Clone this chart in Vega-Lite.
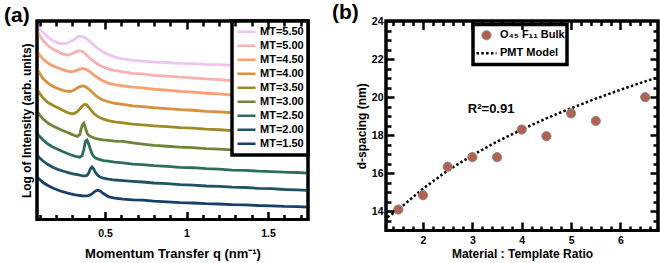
{
"$schema": "https://vega.github.io/schema/vega-lite/v6.json",
"padding": {"left": 2, "top": 0, "right": 0, "bottom": 0},
"spacing": 18,
"resolve": {
  "scale": {"color": "independent", "fill": "independent", "stroke": "independent", "shape": "independent", "size": "independent", "strokeDash": "independent", "strokeWidth": "independent"},
  "legend": {"color": "independent", "fill": "independent", "stroke": "independent", "shape": "independent", "size": "independent", "strokeDash": "independent", "strokeWidth": "independent"}
},
"config": {
  "font": "Liberation Sans",
  "view": {"stroke": "black", "strokeWidth": 3},
  "axis": {"labelFontWeight": "bold", "titleFontWeight": "bold", "labelColor": "black", "titleColor": "black", "domain": false, "grid": false, "ticks": true, "tickColor": "#000000", "tickWidth": 2.5, "tickOpacity": 1, "labelFontSize": 10.5, "titleFontSize": 12, "labelOverlap": false, "labelFlush": false, "zindex": 2},
  "legend": {"strokeColor": "black", "strokeWidth": 3.5, "fillColor": "white", "labelFontWeight": "bold", "labelFontSize": 11, "labelColor": "black"},
  "title": {"fontSize": 21, "fontWeight": "bold", "anchor": "start", "frame": "group", "color": "black"}
},
"datasets": {
"saxs": [
{"m":"MT=1.50","q":0.085,"v":42},{"m":"MT=1.50","q":0.1,"v":40},{"m":"MT=1.50","q":0.12,"v":37},{"m":"MT=1.50","q":0.15,"v":34},{"m":"MT=1.50","q":0.18,"v":31.5},{"m":"MT=1.50","q":0.21,"v":29.5},{"m":"MT=1.50","q":0.24,"v":27.8},{"m":"MT=1.50","q":0.27,"v":26.5},{"m":"MT=1.50","q":0.29,"v":25.7},{"m":"MT=1.50","q":0.31,"v":25},{"m":"MT=1.50","q":0.33,"v":24.4},{"m":"MT=1.50","q":0.345,"v":24},{"m":"MT=1.50","q":0.36,"v":23.7},{"m":"MT=1.50","q":0.37,"v":23.6},{"m":"MT=1.50","q":0.38,"v":23.6},{"m":"MT=1.50","q":0.39,"v":23.7},{"m":"MT=1.50","q":0.4,"v":24},{"m":"MT=1.50","q":0.41,"v":24.6},{"m":"MT=1.50","q":0.42,"v":25.6},{"m":"MT=1.50","q":0.43,"v":27},{"m":"MT=1.50","q":0.44,"v":28.4},{"m":"MT=1.50","q":0.455,"v":29.3},{"m":"MT=1.50","q":0.47,"v":28.6},{"m":"MT=1.50","q":0.49,"v":26},{"m":"MT=1.50","q":0.52,"v":22.8},{"m":"MT=1.50","q":0.56,"v":21.3},{"m":"MT=1.50","q":0.61,"v":20.3},{"m":"MT=1.50","q":0.67,"v":19.7},{"m":"MT=1.50","q":0.73,"v":19.4},{"m":"MT=1.50","q":0.8,"v":18.4},{"m":"MT=1.50","q":0.88,"v":17.6},{"m":"MT=1.50","q":0.96,"v":16.9},{"m":"MT=1.50","q":1.04,"v":16.5},{"m":"MT=1.50","q":1.12,"v":15.8},{"m":"MT=1.50","q":1.2,"v":15.5},{"m":"MT=1.50","q":1.28,"v":14.9},{"m":"MT=1.50","q":1.36,"v":14.6},{"m":"MT=1.50","q":1.44,"v":14},{"m":"MT=1.50","q":1.52,"v":13.7},{"m":"MT=1.50","q":1.6,"v":13.1},{"m":"MT=1.50","q":1.68,"v":12.9},{"m":"MT=1.50","q":1.75,"v":12.4},
{"m":"MT=2.00","q":0.085,"v":64},{"m":"MT=2.00","q":0.1,"v":61.5},{"m":"MT=2.00","q":0.12,"v":58.5},{"m":"MT=2.00","q":0.15,"v":55},{"m":"MT=2.00","q":0.18,"v":52.3},{"m":"MT=2.00","q":0.21,"v":50.2},{"m":"MT=2.00","q":0.24,"v":48.5},{"m":"MT=2.00","q":0.27,"v":47.1},{"m":"MT=2.00","q":0.29,"v":46.2},{"m":"MT=2.00","q":0.31,"v":45.5},{"m":"MT=2.00","q":0.33,"v":44.8},{"m":"MT=2.00","q":0.345,"v":44.3},{"m":"MT=2.00","q":0.36,"v":43.9},{"m":"MT=2.00","q":0.37,"v":43.7},{"m":"MT=2.00","q":0.38,"v":43.7},{"m":"MT=2.00","q":0.39,"v":44.3},{"m":"MT=2.00","q":0.4,"v":46.5},{"m":"MT=2.00","q":0.41,"v":50.5},{"m":"MT=2.00","q":0.42,"v":52.6},{"m":"MT=2.00","q":0.43,"v":50.8},{"m":"MT=2.00","q":0.44,"v":47.5},{"m":"MT=2.00","q":0.455,"v":44.3},{"m":"MT=2.00","q":0.47,"v":42.5},{"m":"MT=2.00","q":0.49,"v":41.3},{"m":"MT=2.00","q":0.52,"v":40.3},{"m":"MT=2.00","q":0.56,"v":39.5},{"m":"MT=2.00","q":0.61,"v":38.9},{"m":"MT=2.00","q":0.67,"v":38.1},{"m":"MT=2.00","q":0.73,"v":37.5},{"m":"MT=2.00","q":0.8,"v":36.5},{"m":"MT=2.00","q":0.88,"v":35.8},{"m":"MT=2.00","q":0.96,"v":34.9},{"m":"MT=2.00","q":1.04,"v":34.4},{"m":"MT=2.00","q":1.12,"v":33.5},{"m":"MT=2.00","q":1.2,"v":33.1},{"m":"MT=2.00","q":1.28,"v":32.3},{"m":"MT=2.00","q":1.36,"v":32},{"m":"MT=2.00","q":1.44,"v":31.2},{"m":"MT=2.00","q":1.52,"v":30.8},{"m":"MT=2.00","q":1.6,"v":30},{"m":"MT=2.00","q":1.68,"v":29.7},{"m":"MT=2.00","q":1.75,"v":29.1},
{"m":"MT=2.50","q":0.085,"v":86},{"m":"MT=2.50","q":0.1,"v":83},{"m":"MT=2.50","q":0.12,"v":79.5},{"m":"MT=2.50","q":0.15,"v":75.5},{"m":"MT=2.50","q":0.18,"v":72.5},{"m":"MT=2.50","q":0.21,"v":70.2},{"m":"MT=2.50","q":0.24,"v":68},{"m":"MT=2.50","q":0.27,"v":66},{"m":"MT=2.50","q":0.29,"v":64.8},{"m":"MT=2.50","q":0.31,"v":63.7},{"m":"MT=2.50","q":0.33,"v":62.8},{"m":"MT=2.50","q":0.345,"v":62.3},{"m":"MT=2.50","q":0.36,"v":64},{"m":"MT=2.50","q":0.37,"v":70},{"m":"MT=2.50","q":0.38,"v":78.5},{"m":"MT=2.50","q":0.39,"v":79.5},{"m":"MT=2.50","q":0.4,"v":75.5},{"m":"MT=2.50","q":0.41,"v":70.5},{"m":"MT=2.50","q":0.42,"v":66},{"m":"MT=2.50","q":0.43,"v":63.3},{"m":"MT=2.50","q":0.44,"v":61.8},{"m":"MT=2.50","q":0.455,"v":60.7},{"m":"MT=2.50","q":0.47,"v":59.8},{"m":"MT=2.50","q":0.49,"v":59},{"m":"MT=2.50","q":0.52,"v":58.3},{"m":"MT=2.50","q":0.56,"v":57.5},{"m":"MT=2.50","q":0.61,"v":56.7},{"m":"MT=2.50","q":0.67,"v":55.5},{"m":"MT=2.50","q":0.73,"v":54.8},{"m":"MT=2.50","q":0.8,"v":53.8},{"m":"MT=2.50","q":0.88,"v":53.1},{"m":"MT=2.50","q":0.96,"v":52.2},{"m":"MT=2.50","q":1.04,"v":51.8},{"m":"MT=2.50","q":1.12,"v":50.9},{"m":"MT=2.50","q":1.2,"v":50.4},{"m":"MT=2.50","q":1.28,"v":49.5},{"m":"MT=2.50","q":1.36,"v":49.1},{"m":"MT=2.50","q":1.44,"v":48.4},{"m":"MT=2.50","q":1.52,"v":48},{"m":"MT=2.50","q":1.6,"v":47.3},{"m":"MT=2.50","q":1.68,"v":47},{"m":"MT=2.50","q":1.75,"v":46.4},
{"m":"MT=3.00","q":0.085,"v":108},{"m":"MT=3.00","q":0.1,"v":104.5},{"m":"MT=3.00","q":0.12,"v":100.5},{"m":"MT=3.00","q":0.15,"v":96.5},{"m":"MT=3.00","q":0.18,"v":93.5},{"m":"MT=3.00","q":0.21,"v":91.2},{"m":"MT=3.00","q":0.24,"v":89},{"m":"MT=3.00","q":0.27,"v":87},{"m":"MT=3.00","q":0.29,"v":85.7},{"m":"MT=3.00","q":0.31,"v":84.3},{"m":"MT=3.00","q":0.33,"v":83.2},{"m":"MT=3.00","q":0.345,"v":85},{"m":"MT=3.00","q":0.36,"v":94.5},{"m":"MT=3.00","q":0.37,"v":96.5},{"m":"MT=3.00","q":0.38,"v":91.5},{"m":"MT=3.00","q":0.39,"v":86.5},{"m":"MT=3.00","q":0.4,"v":84.3},{"m":"MT=3.00","q":0.41,"v":83.2},{"m":"MT=3.00","q":0.42,"v":82.5},{"m":"MT=3.00","q":0.43,"v":81.8},{"m":"MT=3.00","q":0.44,"v":81.2},{"m":"MT=3.00","q":0.455,"v":80.6},{"m":"MT=3.00","q":0.47,"v":80.1},{"m":"MT=3.00","q":0.49,"v":79.6},{"m":"MT=3.00","q":0.52,"v":79.1},{"m":"MT=3.00","q":0.56,"v":78.5},{"m":"MT=3.00","q":0.61,"v":78.2},{"m":"MT=3.00","q":0.67,"v":76.7},{"m":"MT=3.00","q":0.73,"v":75.4},{"m":"MT=3.00","q":0.8,"v":74.1},{"m":"MT=3.00","q":0.88,"v":73.3},{"m":"MT=3.00","q":0.96,"v":72.4},{"m":"MT=3.00","q":1.04,"v":71.9},{"m":"MT=3.00","q":1.12,"v":71},{"m":"MT=3.00","q":1.2,"v":70.5},{"m":"MT=3.00","q":1.28,"v":69.6},{"m":"MT=3.00","q":1.36,"v":69.2},{"m":"MT=3.00","q":1.44,"v":68.4},{"m":"MT=3.00","q":1.52,"v":68},{"m":"MT=3.00","q":1.6,"v":67.3},{"m":"MT=3.00","q":1.68,"v":67},{"m":"MT=3.00","q":1.75,"v":66.4},
{"m":"MT=3.50","q":0.085,"v":130},{"m":"MT=3.50","q":0.1,"v":126},{"m":"MT=3.50","q":0.12,"v":121.5},{"m":"MT=3.50","q":0.15,"v":117},{"m":"MT=3.50","q":0.18,"v":114.3},{"m":"MT=3.50","q":0.21,"v":111.8},{"m":"MT=3.50","q":0.24,"v":109.3},{"m":"MT=3.50","q":0.27,"v":107},{"m":"MT=3.50","q":0.29,"v":105.9},{"m":"MT=3.50","q":0.31,"v":106},{"m":"MT=3.50","q":0.33,"v":107.8},{"m":"MT=3.50","q":0.345,"v":110.5},{"m":"MT=3.50","q":0.36,"v":113},{"m":"MT=3.50","q":0.37,"v":114.8},{"m":"MT=3.50","q":0.38,"v":115.3},{"m":"MT=3.50","q":0.39,"v":114.5},{"m":"MT=3.50","q":0.4,"v":112.5},{"m":"MT=3.50","q":0.41,"v":110.5},{"m":"MT=3.50","q":0.42,"v":108.3},{"m":"MT=3.50","q":0.43,"v":106.3},{"m":"MT=3.50","q":0.44,"v":104.8},{"m":"MT=3.50","q":0.455,"v":103.2},{"m":"MT=3.50","q":0.47,"v":101.8},{"m":"MT=3.50","q":0.49,"v":100.4},{"m":"MT=3.50","q":0.52,"v":98.9},{"m":"MT=3.50","q":0.56,"v":97.7},{"m":"MT=3.50","q":0.61,"v":96.7},{"m":"MT=3.50","q":0.67,"v":95.4},{"m":"MT=3.50","q":0.73,"v":94.7},{"m":"MT=3.50","q":0.8,"v":93.6},{"m":"MT=3.50","q":0.88,"v":93},{"m":"MT=3.50","q":0.96,"v":92},{"m":"MT=3.50","q":1.04,"v":91.4},{"m":"MT=3.50","q":1.12,"v":90.4},{"m":"MT=3.50","q":1.2,"v":89.8},{"m":"MT=3.50","q":1.28,"v":88.9},{"m":"MT=3.50","q":1.36,"v":88.5},{"m":"MT=3.50","q":1.44,"v":87.7},{"m":"MT=3.50","q":1.52,"v":87.3},{"m":"MT=3.50","q":1.6,"v":86.6},{"m":"MT=3.50","q":1.68,"v":86.4},{"m":"MT=3.50","q":1.75,"v":85.9},
{"m":"MT=4.00","q":0.085,"v":150},{"m":"MT=4.00","q":0.1,"v":146},{"m":"MT=4.00","q":0.12,"v":141},{"m":"MT=4.00","q":0.15,"v":136.5},{"m":"MT=4.00","q":0.18,"v":133.3},{"m":"MT=4.00","q":0.21,"v":131},{"m":"MT=4.00","q":0.24,"v":129.3},{"m":"MT=4.00","q":0.27,"v":128.2},{"m":"MT=4.00","q":0.29,"v":128.3},{"m":"MT=4.00","q":0.31,"v":129.5},{"m":"MT=4.00","q":0.33,"v":131.5},{"m":"MT=4.00","q":0.345,"v":133},{"m":"MT=4.00","q":0.36,"v":133.7},{"m":"MT=4.00","q":0.37,"v":133.5},{"m":"MT=4.00","q":0.38,"v":132.8},{"m":"MT=4.00","q":0.39,"v":131.8},{"m":"MT=4.00","q":0.4,"v":130.5},{"m":"MT=4.00","q":0.41,"v":129},{"m":"MT=4.00","q":0.42,"v":127.5},{"m":"MT=4.00","q":0.43,"v":126},{"m":"MT=4.00","q":0.44,"v":124.5},{"m":"MT=4.00","q":0.455,"v":122.6},{"m":"MT=4.00","q":0.47,"v":121},{"m":"MT=4.00","q":0.49,"v":119.3},{"m":"MT=4.00","q":0.52,"v":117.8},{"m":"MT=4.00","q":0.56,"v":116.3},{"m":"MT=4.00","q":0.61,"v":115.1},{"m":"MT=4.00","q":0.67,"v":113.7},{"m":"MT=4.00","q":0.73,"v":113},{"m":"MT=4.00","q":0.8,"v":111.8},{"m":"MT=4.00","q":0.88,"v":110.9},{"m":"MT=4.00","q":0.96,"v":109.9},{"m":"MT=4.00","q":1.04,"v":109.3},{"m":"MT=4.00","q":1.12,"v":108.2},{"m":"MT=4.00","q":1.2,"v":107.7},{"m":"MT=4.00","q":1.28,"v":106.8},{"m":"MT=4.00","q":1.36,"v":106.3},{"m":"MT=4.00","q":1.44,"v":105.4},{"m":"MT=4.00","q":1.52,"v":105},{"m":"MT=4.00","q":1.6,"v":104.2},{"m":"MT=4.00","q":1.68,"v":103.8},{"m":"MT=4.00","q":1.75,"v":103.2},
{"m":"MT=4.50","q":0.085,"v":168},{"m":"MT=4.50","q":0.1,"v":164.5},{"m":"MT=4.50","q":0.12,"v":160.5},{"m":"MT=4.50","q":0.15,"v":156.5},{"m":"MT=4.50","q":0.18,"v":153.7},{"m":"MT=4.50","q":0.21,"v":151.8},{"m":"MT=4.50","q":0.24,"v":150},{"m":"MT=4.50","q":0.27,"v":148.5},{"m":"MT=4.50","q":0.29,"v":148},{"m":"MT=4.50","q":0.31,"v":148.3},{"m":"MT=4.50","q":0.33,"v":149.4},{"m":"MT=4.50","q":0.345,"v":150.4},{"m":"MT=4.50","q":0.36,"v":151},{"m":"MT=4.50","q":0.37,"v":151},{"m":"MT=4.50","q":0.38,"v":150.5},{"m":"MT=4.50","q":0.39,"v":149.6},{"m":"MT=4.50","q":0.4,"v":148.6},{"m":"MT=4.50","q":0.41,"v":147.4},{"m":"MT=4.50","q":0.42,"v":146.2},{"m":"MT=4.50","q":0.43,"v":144.9},{"m":"MT=4.50","q":0.44,"v":143.6},{"m":"MT=4.50","q":0.455,"v":141.9},{"m":"MT=4.50","q":0.47,"v":140.3},{"m":"MT=4.50","q":0.49,"v":138.5},{"m":"MT=4.50","q":0.52,"v":136.5},{"m":"MT=4.50","q":0.56,"v":135},{"m":"MT=4.50","q":0.61,"v":133.8},{"m":"MT=4.50","q":0.67,"v":132.4},{"m":"MT=4.50","q":0.73,"v":131.6},{"m":"MT=4.50","q":0.8,"v":130.3},{"m":"MT=4.50","q":0.88,"v":129.4},{"m":"MT=4.50","q":0.96,"v":128.1},{"m":"MT=4.50","q":1.04,"v":127.4},{"m":"MT=4.50","q":1.12,"v":126.3},{"m":"MT=4.50","q":1.2,"v":125.6},{"m":"MT=4.50","q":1.28,"v":124.5},{"m":"MT=4.50","q":1.36,"v":123.9},{"m":"MT=4.50","q":1.44,"v":122.9},{"m":"MT=4.50","q":1.52,"v":122.3},{"m":"MT=4.50","q":1.6,"v":121.4},{"m":"MT=4.50","q":1.68,"v":120.9},{"m":"MT=4.50","q":1.75,"v":120.1},
{"m":"MT=5.00","q":0.085,"v":188.5},{"m":"MT=5.00","q":0.1,"v":184},{"m":"MT=5.00","q":0.12,"v":179},{"m":"MT=5.00","q":0.15,"v":174},{"m":"MT=5.00","q":0.18,"v":170.5},{"m":"MT=5.00","q":0.21,"v":168},{"m":"MT=5.00","q":0.24,"v":165.5},{"m":"MT=5.00","q":0.27,"v":164.6},{"m":"MT=5.00","q":0.29,"v":165.3},{"m":"MT=5.00","q":0.31,"v":166.8},{"m":"MT=5.00","q":0.33,"v":168.5},{"m":"MT=5.00","q":0.345,"v":168.7},{"m":"MT=5.00","q":0.36,"v":168.2},{"m":"MT=5.00","q":0.37,"v":167.2},{"m":"MT=5.00","q":0.38,"v":165.8},{"m":"MT=5.00","q":0.39,"v":164.2},{"m":"MT=5.00","q":0.4,"v":162.6},{"m":"MT=5.00","q":0.41,"v":161.1},{"m":"MT=5.00","q":0.42,"v":159.8},{"m":"MT=5.00","q":0.43,"v":158.5},{"m":"MT=5.00","q":0.44,"v":157.2},{"m":"MT=5.00","q":0.455,"v":155.6},{"m":"MT=5.00","q":0.47,"v":154.1},{"m":"MT=5.00","q":0.49,"v":152.4},{"m":"MT=5.00","q":0.52,"v":150.6},{"m":"MT=5.00","q":0.56,"v":149},{"m":"MT=5.00","q":0.61,"v":147.6},{"m":"MT=5.00","q":0.67,"v":146.3},{"m":"MT=5.00","q":0.73,"v":145.6},{"m":"MT=5.00","q":0.8,"v":144.3},{"m":"MT=5.00","q":0.88,"v":143.4},{"m":"MT=5.00","q":0.96,"v":142.4},{"m":"MT=5.00","q":1.04,"v":141.7},{"m":"MT=5.00","q":1.12,"v":140.6},{"m":"MT=5.00","q":1.2,"v":139.9},{"m":"MT=5.00","q":1.28,"v":138.8},{"m":"MT=5.00","q":1.36,"v":138.3},{"m":"MT=5.00","q":1.44,"v":137.4},{"m":"MT=5.00","q":1.52,"v":136.9},{"m":"MT=5.00","q":1.6,"v":136.1},{"m":"MT=5.00","q":1.68,"v":135.7},{"m":"MT=5.00","q":1.75,"v":135.1},
{"m":"MT=5.50","q":0.085,"v":193.5},{"m":"MT=5.50","q":0.1,"v":191},{"m":"MT=5.50","q":0.12,"v":187},{"m":"MT=5.50","q":0.15,"v":182.5},{"m":"MT=5.50","q":0.18,"v":179},{"m":"MT=5.50","q":0.21,"v":176.7},{"m":"MT=5.50","q":0.24,"v":175.8},{"m":"MT=5.50","q":0.27,"v":176.5},{"m":"MT=5.50","q":0.29,"v":178},{"m":"MT=5.50","q":0.31,"v":180},{"m":"MT=5.50","q":0.33,"v":182.5},{"m":"MT=5.50","q":0.345,"v":183.3},{"m":"MT=5.50","q":0.36,"v":183.2},{"m":"MT=5.50","q":0.37,"v":182.6},{"m":"MT=5.50","q":0.38,"v":181.6},{"m":"MT=5.50","q":0.39,"v":180.4},{"m":"MT=5.50","q":0.4,"v":179},{"m":"MT=5.50","q":0.41,"v":177.6},{"m":"MT=5.50","q":0.42,"v":176.2},{"m":"MT=5.50","q":0.43,"v":174.8},{"m":"MT=5.50","q":0.44,"v":173.4},{"m":"MT=5.50","q":0.455,"v":171.5},{"m":"MT=5.50","q":0.47,"v":169.6},{"m":"MT=5.50","q":0.49,"v":167.4},{"m":"MT=5.50","q":0.52,"v":165},{"m":"MT=5.50","q":0.56,"v":162.5},{"m":"MT=5.50","q":0.61,"v":160.6},{"m":"MT=5.50","q":0.67,"v":159.1},{"m":"MT=5.50","q":0.73,"v":158.5},{"m":"MT=5.50","q":0.8,"v":157.6},{"m":"MT=5.50","q":0.88,"v":157.1},{"m":"MT=5.50","q":0.96,"v":156.3},{"m":"MT=5.50","q":1.04,"v":155.9},{"m":"MT=5.50","q":1.12,"v":155.2},{"m":"MT=5.50","q":1.2,"v":154.9},{"m":"MT=5.50","q":1.28,"v":154.2},{"m":"MT=5.50","q":1.36,"v":154},{"m":"MT=5.50","q":1.44,"v":153.4},{"m":"MT=5.50","q":1.52,"v":153.2},{"m":"MT=5.50","q":1.6,"v":152.6},{"m":"MT=5.50","q":1.68,"v":152.4},{"m":"MT=5.50","q":1.75,"v":152}
],
"dsp": [
{"s":"O₄₅ F₁₁ Bulk","ratio":1.5,"d":14.1},{"s":"O₄₅ F₁₁ Bulk","ratio":2,"d":14.85},{"s":"O₄₅ F₁₁ Bulk","ratio":2.5,"d":16.35},{"s":"O₄₅ F₁₁ Bulk","ratio":3,"d":16.85},{"s":"O₄₅ F₁₁ Bulk","ratio":3.5,"d":16.85},{"s":"O₄₅ F₁₁ Bulk","ratio":4,"d":18.3},{"s":"O₄₅ F₁₁ Bulk","ratio":4.5,"d":17.95},{"s":"O₄₅ F₁₁ Bulk","ratio":5,"d":19.15},{"s":"O₄₅ F₁₁ Bulk","ratio":5.5,"d":18.75},{"s":"O₄₅ F₁₁ Bulk","ratio":6.5,"d":20.0}
],
"pmt": [
{"s":"PMT Model","ratio":1.28,"d":13.7},{"s":"PMT Model","ratio":1.5,"d":14.1},{"s":"PMT Model","ratio":2,"d":15.2},{"s":"PMT Model","ratio":2.5,"d":16.15},{"s":"PMT Model","ratio":3,"d":16.95},{"s":"PMT Model","ratio":3.5,"d":17.67},{"s":"PMT Model","ratio":4,"d":18.3},{"s":"PMT Model","ratio":4.5,"d":18.89},{"s":"PMT Model","ratio":5,"d":19.42},{"s":"PMT Model","ratio":5.5,"d":19.92},{"s":"PMT Model","ratio":6,"d":20.39},{"s":"PMT Model","ratio":6.5,"d":20.83},{"s":"PMT Model","ratio":6.76,"d":21.05}
],
"ann": [{"label":"R²=0.91"}],
"frame": [{"f":1}]
},
"hconcat": [
{
  "width": 271, "height": 198.5,
  "view": {"stroke": "black", "strokeWidth": 3},
  "title": {"text": "(a)", "dx": -33, "offset": -6.5},
  "layer": [
    {
      "data": {"name": "saxs"},
      "mark": {"type": "line", "strokeWidth": 2.8, "clip": true},
      "encoding": {
        "x": {"field": "q", "type": "quantitative", "scale": {"domain": [0.083, 1.745], "nice": false, "zero": false},
              "axis": {"orient": "bottom", "title": "Momentum Transfer q (nm⁻¹)", "titleFontSize": 13,
                       "values": [0.5,1,1.5], "labelExpr": "format(datum.value, '~g')",
                       "ticks": true, "tickColor": "#000000", "tickWidth": 2.5, "tickOpacity": 1, "zindex": 2,
                       "tickSize": -8, "labelPadding": 17, "titlePadding": 8}},
        "y": {"field": "v", "type": "quantitative", "scale": {"domain": [0, 198.6], "nice": false, "zero": false},
              "axis": {"title": "Log of Intensity (arb. units)", "labels": false, "ticks": false, "titlePadding": 4}},
        "color": {"field": "m", "type": "nominal",
                  "scale": {"domain": ["MT=5.50","MT=5.00","MT=4.50","MT=4.00","MT=3.50","MT=3.00","MT=2.50","MT=2.00","MT=1.50"],
                            "range": ["#f0c4f0","#f8b0b0","#f8a070","#d8903c","#a08a28","#6e8438","#2e6e58","#1e5466","#16406a"]},
                  "legend": {"title": null, "orient": "top-right", "offset": 0, "symbolType": "stroke", "symbolSize": 324, "symbolStrokeWidth": 2.5, "clipHeight": 13.4, "rowPadding": 0, "padding": 4, "labelOffset": 3, "zindex": 1}}
      }
    },
    {
      "data": {"name": "frame"},
      "mark": {"type": "point", "opacity": 0},
      "encoding": {
        "x": {"datum": 0.5, "type": "quantitative", "axis": {"orient": "top", "title": null, "labels": false, "values": [0.5,1,1.5], "ticks": true, "tickColor": "#000000", "tickWidth": 2.5, "tickOpacity": 1, "zindex": 2, "tickSize": -8}},
        "y": {"datum": 100, "type": "quantitative", "axis": null}
      }
    },
    {
      "data": {"name": "frame"},
      "mark": {"type": "point", "opacity": 0},
      "encoding": {
        "x": {"datum": 0.5, "type": "quantitative", "axis": {"orient": "bottom", "title": null, "labels": false, "values": [0.1,0.2,0.3,0.4,0.6,0.7,0.8,0.9,1.1,1.2,1.3,1.4,1.6,1.7], "ticks": true, "tickColor": "#000000", "tickWidth": 2.5, "tickOpacity": 1, "zindex": 2, "tickSize": -5}},
        "y": {"datum": 100, "type": "quantitative", "axis": null}
      }
    },
    {
      "data": {"name": "frame"},
      "mark": {"type": "point", "opacity": 0},
      "encoding": {
        "x": {"datum": 0.5, "type": "quantitative", "axis": {"orient": "top", "title": null, "labels": false, "values": [0.1,0.2,0.3,0.4,0.6,0.7,0.8,0.9,1.1,1.2,1.3,1.4,1.6,1.7], "ticks": true, "tickColor": "#000000", "tickWidth": 2.5, "tickOpacity": 1, "zindex": 2, "tickSize": -5}},
        "y": {"datum": 100, "type": "quantitative", "axis": null}
      }
    },
    {
      "data": {"name": "frame"},
      "mark": {"type": "rect", "filled": false, "stroke": "black", "strokeWidth": 3},
      "encoding": {
        "x": {"datum": 0.083, "type": "quantitative", "axis": null},
        "x2": {"datum": 1.745},
        "y": {"datum": 0, "type": "quantitative", "axis": null},
        "y2": {"datum": 198.6}
      }
    }
  ],
  "resolve": {"axis": {"x": "independent", "y": "independent"}}
},
{
  "width": 272, "height": 209.5,
  "view": {"stroke": "black", "strokeWidth": 3},
  "title": {"text": "(b)", "dx": -54, "offset": -6.5},
  "layer": [
    {
      "data": {"name": "pmt"},
      "mark": {"type": "line", "clip": true},
      "encoding": {
        "x": {"field": "ratio", "type": "quantitative", "scale": {"domain": [1.25, 6.76], "nice": false, "zero": false},
              "axis": {"orient": "top", "title": null, "labels": false, "values": [2,3,4,5,6], "ticks": true, "tickColor": "#000000", "tickWidth": 2.5, "tickOpacity": 1, "zindex": 2, "tickSize": -8.5}},
        "y": {"field": "d", "type": "quantitative", "scale": {"domain": [13, 24], "nice": false, "zero": false},
              "axis": {"orient": "right", "title": null, "labels": false, "values": [14,16,18,20,22], "ticks": true, "tickColor": "#000000", "tickWidth": 2.5, "tickOpacity": 1, "zindex": 2, "tickSize": -8}},
        "stroke": {"field": "s", "type": "nominal", "scale": {"domain": ["O₄₅ F₁₁ Bulk","PMT Model"], "range": ["#8a8a8a","#000000"]}},
        "strokeDash": {"field": "s", "type": "nominal", "scale": {"domain": ["O₄₅ F₁₁ Bulk","PMT Model"], "range": [[1,0],[2.5,2.3]]}},
        "strokeWidth": {"field": "s", "type": "nominal", "scale": {"domain": ["O₄₅ F₁₁ Bulk","PMT Model"], "range": [1,2.5]}}
      }
    },
    {
      "data": {"name": "dsp"},
      "mark": {"type": "point", "filled": true, "opacity": 1},
      "encoding": {
        "x": {"field": "ratio", "type": "quantitative", "scale": {"domain": [1.25, 6.76], "nice": false, "zero": false},
              "axis": {"orient": "bottom", "title": "Material : Template Ratio", "values": [2,3,4,5,6],
                       "labelExpr": "format(datum.value, '~g')", "ticks": true, "tickColor": "#000000", "tickWidth": 2.5, "tickOpacity": 1, "zindex": 2, "tickSize": -8.5,
                       "labelPadding": 13.5, "titlePadding": 2}},
        "y": {"field": "d", "type": "quantitative", "scale": {"domain": [13, 24], "nice": false, "zero": false},
              "axis": {"orient": "left", "title": "d-spacing (nm)", "values": [14,16,18,20,22,24],
                       "labelExpr": "format(datum.value, '~g')", "ticks": true, "tickColor": "#000000", "tickWidth": 2.5, "tickOpacity": 1, "zindex": 2, "tickSize": -8,
                       "labelPadding": 11, "titlePadding": 3}},
        "fill": {"field": "s", "type": "nominal", "scale": {"domain": ["O₄₅ F₁₁ Bulk","PMT Model"], "range": ["#b26250","#000000"]},
                 "legend": {"title": null, "orient": "none", "legendX": 87, "legendY": 3.5, "padding": 2, "clipHeight": 17.5, "rowPadding": 0, "labelOffset": 2, "zindex": 1}},
        "stroke": {"field": "s", "type": "nominal", "scale": {"domain": ["O₄₅ F₁₁ Bulk","PMT Model"], "range": ["#8a8a8a","#000000"]}},
        "shape": {"field": "s", "type": "nominal", "scale": {"domain": ["O₄₅ F₁₁ Bulk","PMT Model"], "range": ["circle","stroke"]}},
        "size": {"field": "s", "type": "nominal", "scale": {"domain": ["O₄₅ F₁₁ Bulk","PMT Model"], "range": [85,400]}},
        "strokeWidth": {"field": "s", "type": "nominal", "scale": {"domain": ["O₄₅ F₁₁ Bulk","PMT Model"], "range": [1,2.5]}}
      }
    },
    {
      "data": {"name": "frame"},
      "mark": {"type": "point", "opacity": 0},
      "encoding": {
        "x": {"datum": 3, "type": "quantitative", "axis": {"orient": "bottom", "title": null, "labels": false, "values": [1.4,1.6,1.8,2.2,2.4,2.6,2.8,3.2,3.4,3.6,3.8,4.2,4.4,4.6,4.8,5.2,5.4,5.6,5.8,6.2,6.4,6.6], "ticks": true, "tickColor": "#000000", "tickWidth": 2.5, "tickOpacity": 1, "zindex": 2, "tickSize": -4.5}},
        "y": {"datum": 18, "type": "quantitative", "axis": {"orient": "left", "title": null, "labels": false, "values": [13.5,14.5,15,15.5,16.5,17,17.5,18.5,19,19.5,20.5,21,21.5,22.5,23,23.5], "ticks": true, "tickColor": "#000000", "tickWidth": 2.5, "tickOpacity": 1, "zindex": 2, "tickSize": -5}}
      }
    },
    {
      "data": {"name": "frame"},
      "mark": {"type": "point", "opacity": 0},
      "encoding": {
        "x": {"datum": 3, "type": "quantitative", "axis": {"orient": "top", "title": null, "labels": false, "values": [1.4,1.6,1.8,2.2,2.4,2.6,2.8,3.2,3.4,3.6,3.8,4.2,4.4,4.6,4.8,5.2,5.4,5.6,5.8,6.2,6.4,6.6], "ticks": true, "tickColor": "#000000", "tickWidth": 2.5, "tickOpacity": 1, "zindex": 2, "tickSize": -4.5}},
        "y": {"datum": 18, "type": "quantitative", "axis": {"orient": "right", "title": null, "labels": false, "values": [13.5,14.5,15,15.5,16.5,17,17.5,18.5,19,19.5,20.5,21,21.5,22.5,23,23.5], "ticks": true, "tickColor": "#000000", "tickWidth": 2.5, "tickOpacity": 1, "zindex": 2, "tickSize": -5}}
      }
    },
    {
      "data": {"name": "ann"},
      "mark": {"type": "text", "fontSize": 13, "fontWeight": "bold", "align": "center", "baseline": "middle", "color": "black"},
      "encoding": {
        "x": {"datum": 3.38, "type": "quantitative", "axis": null},
        "y": {"datum": 19.4, "type": "quantitative", "axis": null},
        "text": {"field": "label"}
      }
    },
    {
      "data": {"name": "frame"},
      "mark": {"type": "rect", "filled": false, "stroke": "black", "strokeWidth": 3},
      "encoding": {
        "x": {"datum": 1.25, "type": "quantitative", "axis": null},
        "x2": {"datum": 6.76},
        "y": {"datum": 13, "type": "quantitative", "axis": null},
        "y2": {"datum": 24}
      }
    }
  ],
  "resolve": {"axis": {"x": "independent", "y": "independent"}}
}
]
}
